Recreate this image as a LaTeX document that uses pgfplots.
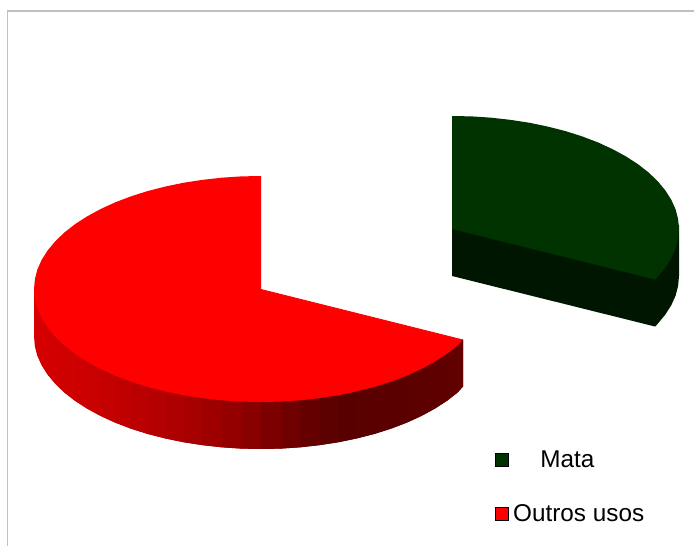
\documentclass[border=0pt]{standalone}
\usepackage{pgfplots}
\pgfplotsset{compat=1.18}
\usepackage{fontspec}
\setmainfont{Liberation Sans}
\definecolor{mata}{RGB}{0,51,0}
\definecolor{matadark}{RGB}{0,22,0}
\definecolor{outros}{RGB}{255,0,0}
\definecolor{frame}{RGB}{192,192,192}
% one band of the shaded red wall: red level, outline. Each band runs under the next one.
\newcommand{\wall}[2]{\addplot[fill={rgb,255:red,#1;green,0;blue,0}, draw=none] coordinates {#2} -- cycle;}

\begin{document}
\begin{tikzpicture}
\begin{axis}[
	scale only axis,
	width=694pt, height=546pt,
	at={(0pt,0pt)}, anchor=south west,
	xmin=0, xmax=694,
	ymin=0, ymax=546,
	y dir=reverse,
	hide axis,
]
% frame
\addplot[frame, line width=1.3pt] coordinates {(7.3,546)(7.3,11)(694,11)};

% Outros usos, side wall
\wall{214}{(34,289)(37.4,304.6)(37.4,355.6)(34.9,345.9)(34,336)}
\wall{214}{(34.9,294.9)(41.7,314.2)(41.7,365.2)(37.4,355.6)(34.9,345.9)}
\wall{213}{(37.4,304.6)(47.7,323.6)(47.7,374.6)(41.7,365.2)(37.4,355.6)}
\wall{212}{(41.7,314.2)(55.3,332.8)(55.3,383.8)(47.7,374.6)(41.7,365.2)}
\wall{210}{(47.7,323.6)(64.4,341.5)(64.4,392.5)(55.3,383.8)(47.7,374.6)}
\wall{208}{(55.3,332.8)(75,349.8)(75,400.8)(64.4,392.5)(55.3,383.8)}
\wall{206}{(64.4,341.5)(87.1,357.6)(87.1,408.6)(75,400.8)(64.4,392.5)}
\wall{204}{(75,349.8)(100.5,364.9)(100.5,415.9)(87.1,408.6)(75,400.8)}
\wall{201}{(87.1,357.6)(115.1,371.6)(115.1,422.6)(100.5,415.9)(87.1,408.6)}
\wall{197}{(100.5,364.9)(130.8,377.6)(130.8,428.6)(115.1,422.6)(100.5,415.9)}
\wall{192}{(115.1,371.6)(147.5,382.9)(147.5,433.9)(130.8,428.6)(115.1,422.6)}
\wall{186}{(130.8,377.6)(165.1,387.4)(165.1,438.4)(147.5,433.9)(130.8,428.6)}
\wall{180}{(147.5,382.9)(183.4,391.2)(183.4,442.2)(165.1,438.4)(147.5,433.9)}
\wall{174}{(165.1,387.4)(202.2,394.1)(202.2,445.1)(183.4,442.2)(165.1,438.4)}
\wall{167}{(183.4,391.2)(221.6,396.3)(221.6,447.3)(202.2,445.1)(183.4,442.2)}
\wall{158}{(202.2,394.1)(241.2,397.6)(241.2,448.6)(221.6,447.3)(202.2,445.1)}
\wall{148}{(221.6,396.3)(261,398)(261,449)(241.2,448.6)(221.6,447.3)}
\wall{137}{(241.2,397.6)(280.8,397.6)(280.8,448.6)(261,449)(241.2,448.6)}
\wall{124}{(261,398)(300.4,396.3)(300.4,447.3)(280.8,448.6)(261,449)}
\wall{111}{(280.8,397.6)(319.8,394.1)(319.8,445.1)(300.4,447.3)(280.8,448.6)}
\wall{100}{(300.4,396.3)(338.6,391.2)(338.6,442.2)(319.8,445.1)(300.4,447.3)}
\wall{92}{(319.8,394.1)(356.9,387.4)(356.9,438.4)(338.6,442.2)(319.8,445.1)}
\wall{88}{(338.6,391.2)(374.5,382.9)(374.5,433.9)(356.9,438.4)(338.6,442.2)}
\wall{89}{(356.9,387.4)(391.2,377.6)(391.2,428.6)(374.5,433.9)(356.9,438.4)}
\wall{90}{(374.5,382.9)(406.9,371.6)(406.9,422.6)(391.2,428.6)(374.5,433.9)}
\wall{91}{(391.2,377.6)(421.5,364.9)(421.5,415.9)(406.9,422.6)(391.2,428.6)}
\wall{92}{(406.9,371.6)(434.9,357.6)(434.9,408.6)(421.5,415.9)(406.9,422.6)}
\wall{93}{(421.5,364.9)(447,349.8)(447,400.8)(434.9,408.6)(421.5,415.9)}
\wall{95}{(434.9,357.6)(457.6,341.5)(457.6,392.5)(447,400.8)(434.9,408.6)}
\wall{97}{(447,349.8)(463,339.5)(463,386.5)(457.6,392.5)(447,400.8)}
\wall{99}{(457.6,341.5)(463,339.5)(463,386.5)(457.6,392.5)}

% Outros usos, top
\addplot[fill=outros, draw=none] coordinates {
(261,289)(261,176)(241.2,176.4)(221.6,177.7)(202.2,179.9)(183.4,182.8)(165.1,186.6)(147.5,191.1)(130.8,196.4)(115.1,202.4)(100.5,209.1)(87.1,216.4)(75,224.2)(64.4,232.5)(55.3,241.2)(47.7,250.4)(41.7,259.8)(37.4,269.4)(34.9,279.1)(34,289)
(34.9,298.9)(37.4,308.6)(41.7,318.2)(47.7,327.6)(55.3,336.8)(64.4,345.5)(75,353.8)(87.1,361.6)(100.5,368.9)(115.1,375.6)(130.8,381.6)(147.5,386.9)(165.1,391.4)(183.4,395.2)(202.2,398.1)(221.6,400.3)(241.2,401.6)(261,402)(280.8,401.6)(300.4,400.3)(319.8,398.1)(338.6,395.2)(356.9,391.4)(374.5,386.9)(391.2,381.6)(406.9,375.6)(421.5,368.9)(434.9,361.6)(447,353.8)(457.6,345.5)(463,339.5)
} -- cycle;

% Mata, side wall
\addplot[fill=matadark, draw=none] coordinates {
(452,225)(679,225)(679,276)(678.1,285.9)(675.6,295.6)(671.3,305.2)(665.3,314.6)(657.7,323.8)(655,326.5)(452,276)
} -- cycle;

% Mata, top
\addplot[fill=mata, draw=none] coordinates {
(452,229)(452,116)(471.8,116.4)(491.4,117.7)(510.8,119.9)(529.6,122.8)(547.9,126.6)(565.5,131.1)(582.2,136.4)(597.9,142.4)(612.5,149.1)(625.9,156.4)(638,164.2)(648.6,172.5)(657.7,181.2)(665.3,190.4)(671.3,199.8)(675.6,209.4)(678.1,219.1)(679,229)(678.1,238.9)(675.6,248.6)(671.3,258.2)(665.3,267.6)(657.7,276.8)(655,279.5)
} -- cycle;

% legend
\addplot[only marks, mark=square*, mark size=6.5pt, mark options={fill=mata, draw=none}] coordinates {(501.5,459.5)};
\addplot[only marks, mark=square*, mark size=6.5pt, mark options={fill=outros, draw=none}] coordinates {(501.5,513.5)};
\node[anchor=base west, inner sep=0pt, font=\fontsize{24.3pt}{28pt}\selectfont] at (axis cs:540.2,467) {Mata};
\node[anchor=base west, inner sep=0pt, font=\fontsize{24.3pt}{28pt}\selectfont] at (axis cs:513,521) {Outros usos};
\end{axis}
\path (0pt,0pt) rectangle (694pt,546pt);
\end{tikzpicture}
\end{document}
